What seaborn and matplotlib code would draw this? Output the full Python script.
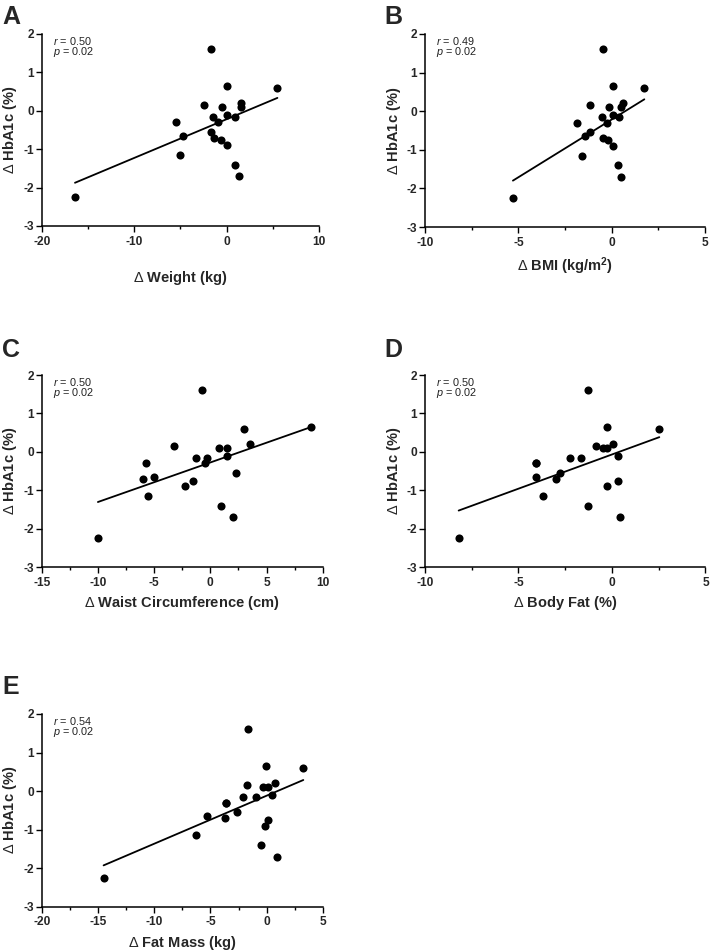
import numpy as np
import pandas as pd
import matplotlib
matplotlib.use("Agg")
import matplotlib.pyplot as plt
import seaborn as sns
from matplotlib.ticker import MultipleLocator

# ---- data ----
hba1c = [-2.25, 1.6, 0.65, 0.6, 0.2, 0.15, 0.1, 0.1, -0.1, -0.15, -0.15,
         -0.3, -0.3, -0.55, -0.65, -0.7, -0.75, -0.9, -1.15, -1.4, -1.7]
d_weight = [-16.4, -1.7, 0.1, 5.5, 1.6, -2.4, -0.45, 1.6, 0.05, 0.9, -1.45,
            -5.5, -0.95, -1.7, -4.7, -1.4, -0.65, 0.1, -5.0, 0.95, 1.3]
d_bmi = [-5.29, -0.48, 0.05, 1.75, 0.59, -1.18, -0.13, 0.48, 0.05, -0.54, 0.39,
         -1.86, -0.27, -1.18, -1.45, -0.48, -0.2, 0.05, -1.57, 0.36, 0.48]
d_waist = [-10.0, -0.77, 9.0, 3.0, 3.5, -3.26, 0.74, 1.51, 1.51, -1.25, -0.27,
           -5.76, -0.5, 2.26, -5.0, -6.0, -1.5, -2.26, -5.5, 0.98, 2.02]
d_bodyfat = [-8.2, -1.27, -0.27, 2.53, 0.04, -0.87, -0.46, -0.25, 0.34, -2.26, -1.68,
             -4.08, -4.08, -2.78, -4.08, -2.98, 0.34, -0.27, -3.67, -1.27, 0.45]
d_fatmass = [-14.5, -1.66, -0.06, 3.25, 0.77, -1.75, -0.3, 0.12, 0.44, -2.07, -0.92,
             -3.58, -3.58, -2.6, -5.33, -3.67, 0.12, -0.15, -6.3, -0.53, 0.89]

panel_letters = ["A", "B", "C", "D", "E"]
x_labels = [r"$\Delta$ Weight (kg)", r"$\Delta$ BMI (kg/m$^{\mathbf{2}}$)",
            r"$\Delta$ Waist Circumference (cm)", r"$\Delta$ Body Fat (%)",
            r"$\Delta$ Fat Mass (kg)"]
r_values = ["0.50", "0.49", "0.50", "0.50", "0.54"]
p_values = ["0.02", "0.02", "0.02", "0.02", "0.02"]
x_series = [d_weight, d_bmi, d_waist, d_bodyfat, d_fatmass]

# ---- style ----
sns.set_style("ticks")
plt.rcParams["font.family"] = ["Liberation Sans", "DejaVu Sans"]
plt.rcParams["font.weight"] = "bold"
plt.rcParams["axes.unicode_minus"] = False
plt.rcParams["mathtext.fontset"] = "custom"
plt.rcParams["mathtext.rm"] = "Liberation Sans:weight=normal"
plt.rcParams["mathtext.it"] = "Liberation Sans:style=italic:weight=normal"
plt.rcParams["mathtext.bf"] = "Liberation Sans:weight=bold"

W, H = 711, 951
fig = plt.figure(figsize=(W / 100, H / 100), dpi=100)

# axes boxes in pixels: left, top, right, bottom
boxes = [(41.7, 34, 319, 226), (425, 34, 705, 227),
         (41.7, 375, 322.7, 567), (425, 375, 705.5, 567),
         (41.7, 714, 323, 906.7)]
xlims = [(-20, 10), (-10, 5), (-15, 10), (-10, 5), (-20, 5)]
xmajor = [10, 5, 5, 5, 5]
xminor = [5, 2.5, 2.5, 2.5, 2.5]
labelpads = [15, 5, 4, 4, 4]
letter_pos = [(2, 5), (384, 5), (2, 338), (384, 338), (2, 675)]

for i in range(5):
    l, t, r, b = boxes[i]
    ax = fig.add_axes([l / W, 1 - b / H, (r - l) / W, (b - t) / H])
    df = pd.DataFrame({"x": x_series[i], "y": hba1c})
    sns.regplot(data=df, x="x", y="y", ax=ax, ci=None, truncate=True,
                scatter_kws=dict(s=34, color="black", linewidths=0, alpha=1),
                line_kws=dict(color="black", lw=1.3))
    ax.set_xlim(*xlims[i])
    ax.set_ylim(-3, 2)
    ax.xaxis.set_major_locator(MultipleLocator(xmajor[i]))
    ax.xaxis.set_minor_locator(MultipleLocator(xminor[i]))
    ax.yaxis.set_major_locator(MultipleLocator(1))
    sns.despine(ax=ax)
    for s in ["left", "bottom"]:
        ax.spines[s].set_linewidth(1.1)
        ax.spines[s].set_color("black")
    ax.tick_params(axis="both", which="major", direction="out", length=4.5,
                   width=1.0, color="black", labelsize=8.6)
    ax.tick_params(axis="x", which="major", pad=2.5)
    ax.tick_params(axis="y", which="major", pad=1)
    ax.tick_params(axis="x", which="minor", direction="out", length=2.5,
                   width=1.0, color="black")
    ax.set_xlabel(x_labels[i], fontsize=10.5, fontweight="bold",
                  labelpad=labelpads[i])
    ax.set_ylabel(r"$\Delta$ HbA1c (%)", fontsize=10.5, fontweight="bold",
                  labelpad=3)
    ax.text(0.04, 0.965, r"$r$ = " + r_values[i], transform=ax.transAxes,
            fontsize=7.8, fontweight="normal", color="#222222",
            va="center", ha="left")
    ax.text(0.04, 0.905, r"$p$ = " + p_values[i], transform=ax.transAxes,
            fontsize=7.8, fontweight="normal", color="#222222",
            va="center", ha="left")
    lx, ly = letter_pos[i]
    fig.text(lx / W, 1 - ly / H, panel_letters[i], fontsize=18,
             fontweight="bold", va="top", ha="left")

fig.savefig("out.png", dpi=100, facecolor="white")
